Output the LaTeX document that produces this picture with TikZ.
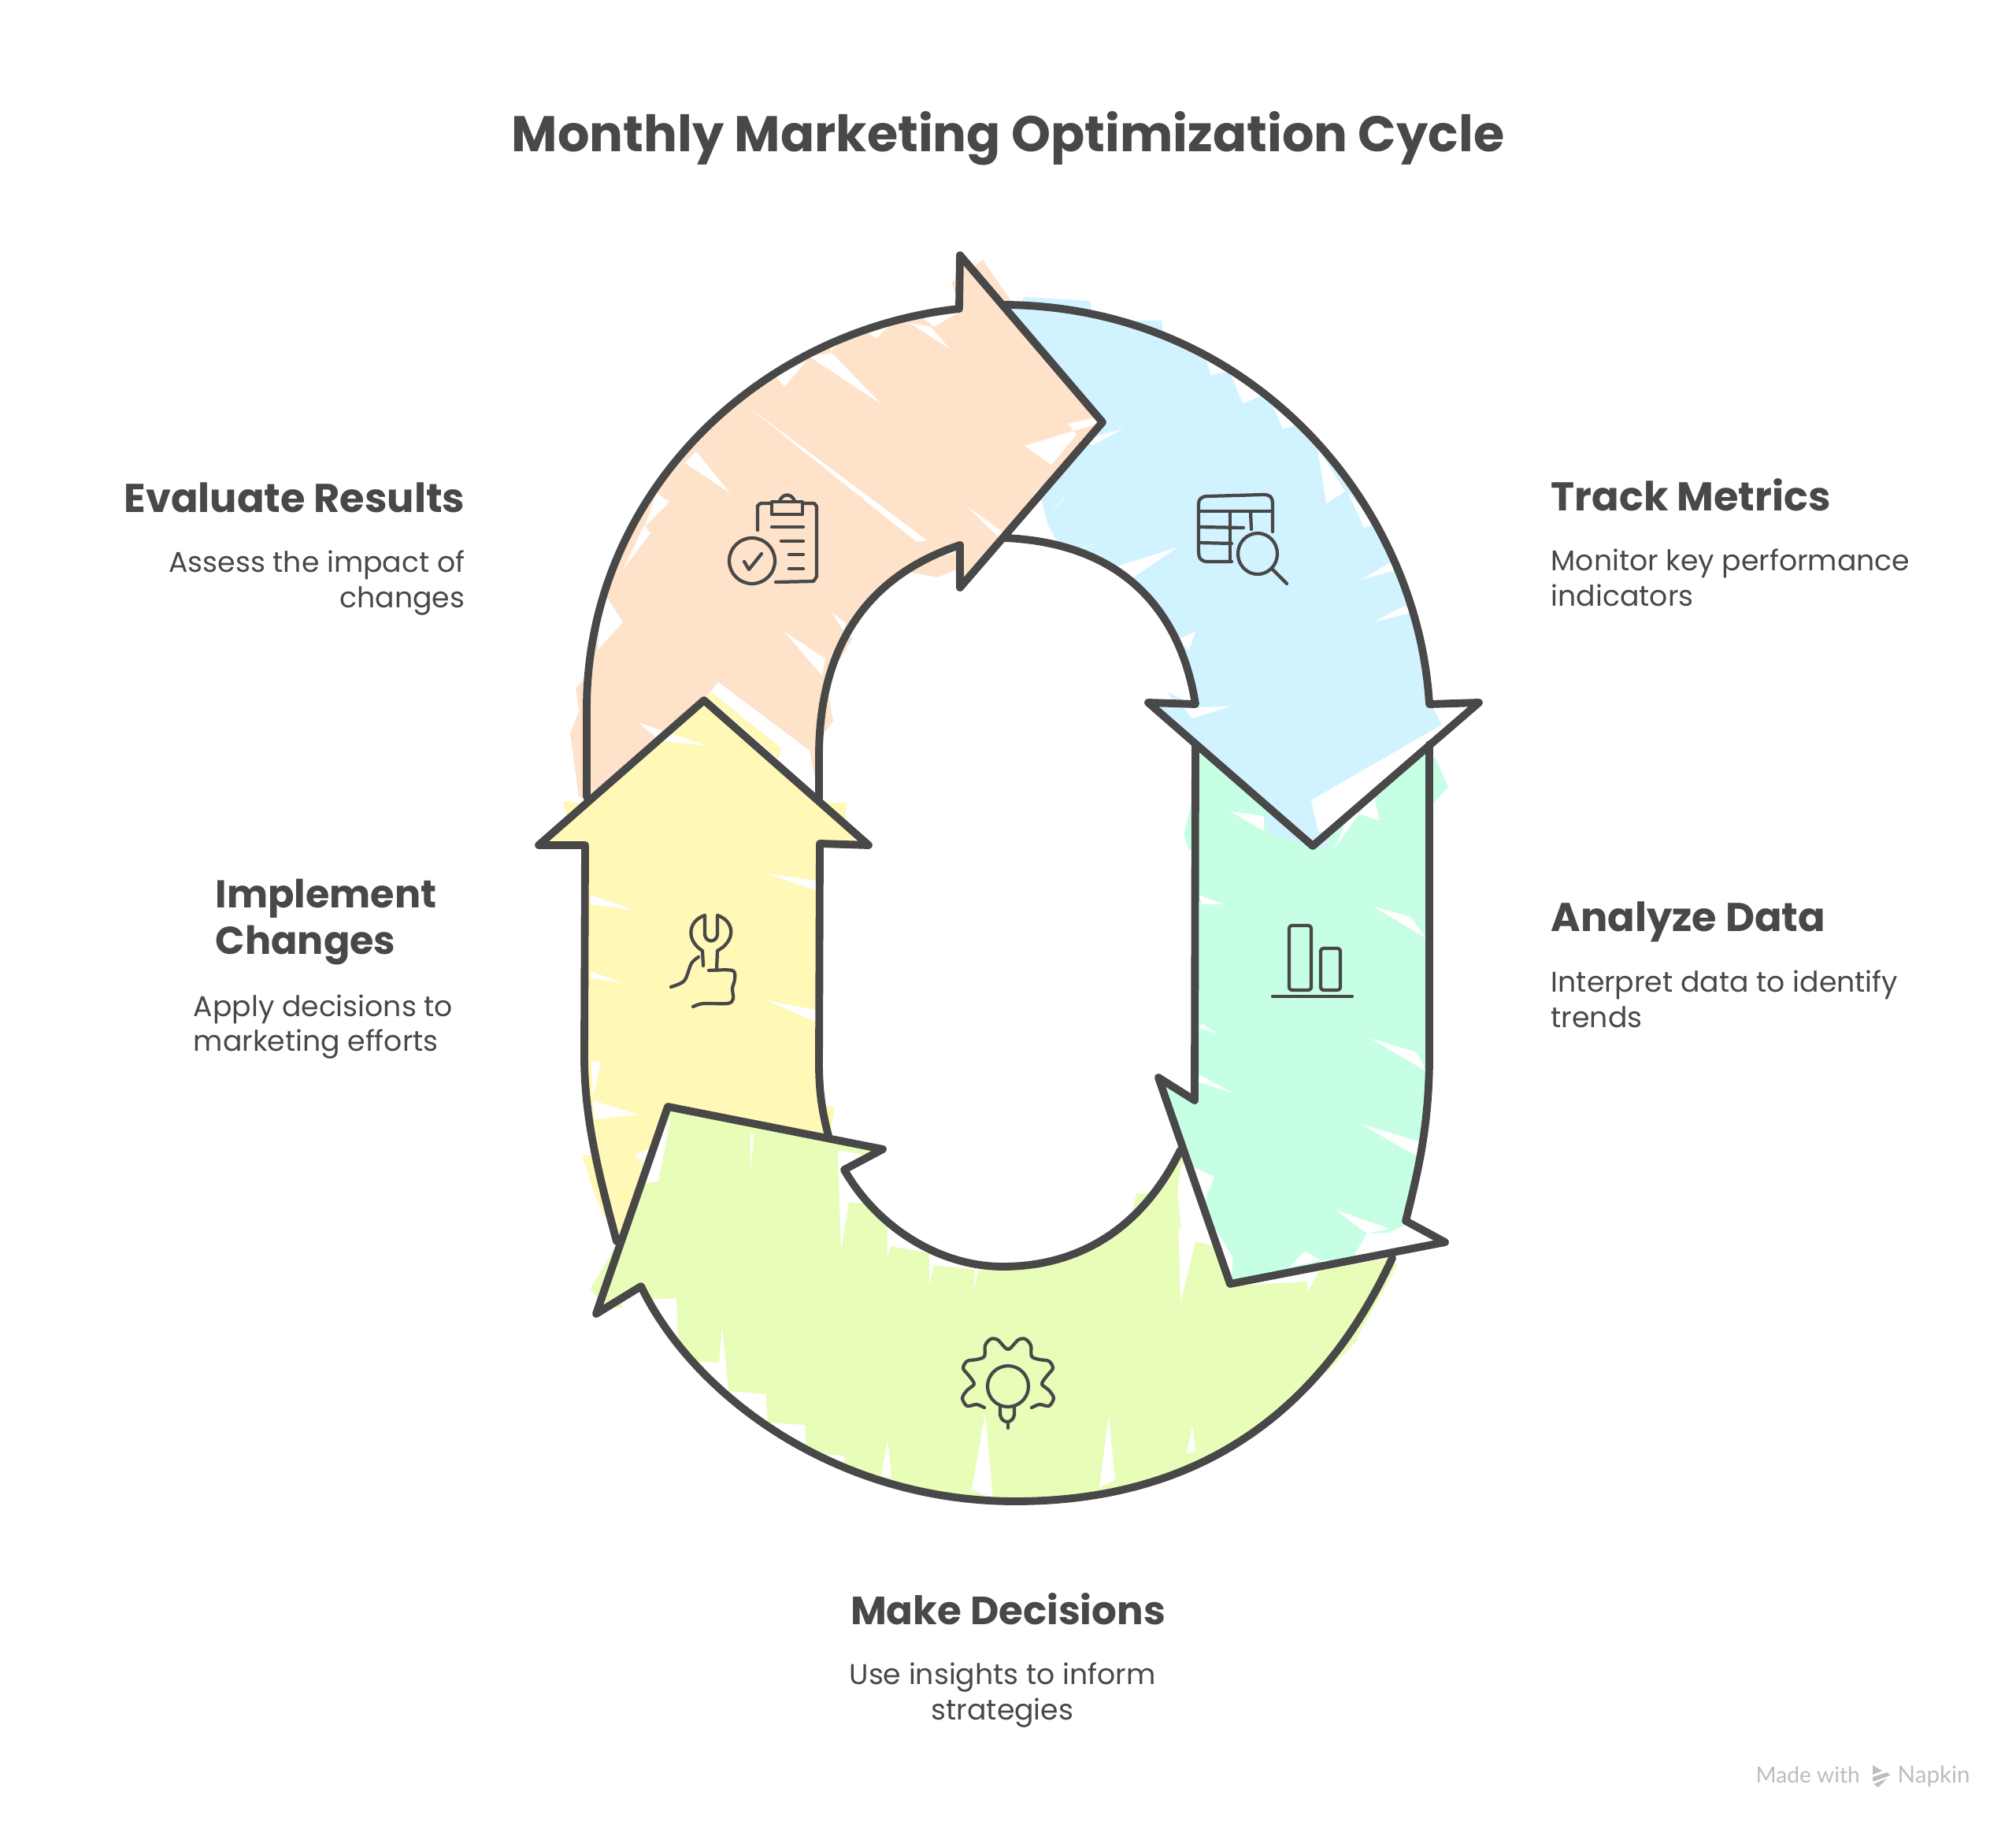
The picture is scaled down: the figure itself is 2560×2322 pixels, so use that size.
\documentclass[tikz,border=0pt]{standalone}
\usepackage{fontspec}
\setmainfont{Poppins}
\newfontfamily\markfont{Lato}
\definecolor{inkline}{HTML}{484848}
\definecolor{orangefill}{HTML}{FEE2CA}
\definecolor{bluefill}{HTML}{D1F3FF}
\definecolor{tealfill}{HTML}{C7FFE5}
\definecolor{limefill}{HTML}{E7FDB8}
\definecolor{yellowfill}{HTML}{FFF8B6}
\definecolor{markgrey}{HTML}{BDBDBD}
\newcommand{\orangebody}{(745,1012) -- (745,900) .. controls (745,630) and (960,420) .. (1218,392) -- (1219,324) -- (1400,536) -- (1219,746) -- (1219,692) .. controls (1120,725) and (1040,800) .. (1040,960) -- (1040,1014)}
\newcommand{\bluebody}{(1277,387) .. controls (1590,390) and (1800,640) .. (1815,894) -- (1878,892) -- (1667,1074) -- (1458,892) -- (1518,894) .. controls (1500,780) and (1430,690) .. (1277,683)}
\newcommand{\tealbody}{(1815,945) -- (1815,1340) .. controls (1815,1430) and (1800,1490) .. (1785,1550) -- (1835,1577) -- (1562,1630) -- (1471,1368) -- (1517,1397) -- (1518,945)}
\newcommand{\limebody}{(1768,1597) .. controls (1660,1830) and (1480,1906) .. (1289,1906) .. controls (1060,1906) and (880,1770) .. (814,1633) -- (757,1668) -- (848,1405) -- (1121,1459) -- (1072,1485) .. controls (1115,1560) and (1195,1608) .. (1273,1608) .. controls (1370,1608) and (1450,1560) .. (1499,1460)}
\newcommand{\yellowbody}{(783,1576) .. controls (760,1490) and (742,1420) .. (742,1340) -- (743,1073) -- (684,1073) -- (894,889) -- (1103,1073) -- (1041,1071) -- (1040,1350) .. controls (1040,1390) and (1045,1415) .. (1052,1442)}
\begin{document}
\begin{tikzpicture}[x=0.01cm,y=-0.01cm]
    \tikzstyle{every node} = [inner sep=0pt, text=inkline]
    \tikzstyle{arrowline} = [draw=inkline, line width=2.8pt, line join=round, line cap=round]
    \tikzstyle{iconline} = [draw=inkline, line width=1.2pt, line join=round, line cap=round]
    \tikzstyle{headtext} = [font=\fontsize{14.5}{16.8}\selectfont\bfseries]
    \tikzstyle{desctext} = [font=\fontsize{10.3}{12.7}\selectfont]
    \useasboundingbox (0,0) rectangle (2560,2322);
    \fill[white] (0,0) rectangle (2560,2322);
    % arrow fills
    \fill[orangefill] \orangebody -- (894,889) -- cycle;
    \fill[bluefill] \bluebody -- (1400,536) -- cycle;
    \fill[tealfill] \tealbody -- (1667,1074) -- cycle;
    \fill[limefill] \limebody -- (1562,1630) -- cycle;
    \fill[yellowfill] \yellowbody -- (848,1405) -- cycle;
    % white slits left by the scribble
    \foreach \ax/\ay/\bx/\by/\cx/\cy in {947/514/1177/686/1164/688, 1028/453/1119/513/1056/448, 1155/410/1206/443/1182/415,
        870/588/927/626/884/573, 1227/642/1273/675/1269/683, 1056/777/1075/792/1070/800, 996/802/1048/836/1044/858,
        810/917/898/947/838/940, 765/749/791/790/759/825, 818/670/850/637/834/626, 791/723/826/677/818/667,
        996/491/1024/458/985/478, 1056/445/1091/412/1040/430, 1113/430/1127/415/1099/420, 1186/415/1225/392/1170/402,
        1530/453/1538/476/1562/471, 1562/473/1578/512/1605/501, 1617/517/1629/545/1645/540, 1673/568/1708/624/1684/639,
        1712/626/1732/670/1748/665, 1768/713/1728/736/1775/723, 1783/769/1744/790/1795/777, 1562/897/1514/912/1503/898,
        1495/695/1412/721/1439/733, 1396/688/1348/705/1384/693, 1427/544/1388/565/1370/560, 1372/611/1325/660/1345/640,
        1518/802/1495/812/1510/825, 1744/1151/1811/1191/1791/1164, 1740/1318/1811/1360/1799/1336, 1728/1427/1803/1470/1807/1451,
        1696/1536/1764/1560/1736/1566, 1657/1588/1637/1609/1677/1600, 1526/1148/1554/1148/1522/1136, 1526/1300/1546/1312/1522/1305,
        1522/1364/1566/1388/1518/1372, 1562/1030/1605/1055/1605/1036, 953/1439/953/1485/958/1439, 1127/1827/1119/1875/1132/1875,
        1251/1794/1234/1891/1261/1903, 1408/1797/1396/1888/1416/1879, 1514/1809/1507/1845/1518/1842, 973/1109/1036/1130/1036/1118,
        973/1270/1036/1297/1036/1282, 750/1136/807/1156/750/1148, 750/1233/791/1248/750/1242, 751/1348/763/1348/753/1394,
        753/1397/810/1415/755/1421, 805/1467/826/1482/834/1454, 852/1417/836/1500/810/1503}
        \fill[white] (\ax,\ay) -- (\bx,\by) -- (\cx,\cy) -- cycle;
    \fill[white] (1301,566) -- (1335,590) -- (1367,552) -- (1356,538) -- (1393,530) -- (1400,536) -- cycle;
    \fill[white] (912,866) -- (1028,953) -- (1040,1014) -- (894,889) -- cycle;
    \fill[white] (1868,897) -- (1819,897) -- (1831,920) -- (1665,1016) -- (1677,1070) -- cycle;
    \fill[white] (1329,662) -- (1349,703) -- (1277,680) -- (1319,620) -- cycle;
    \fill[white] (1693,1079) -- (1716,1030) -- (1752,1042) -- (1744,1008) -- cycle;
    \fill[white] (1503,1476) -- (1542,1494) -- (1526,1533) -- (1566,1597) -- (1562,1630) -- cycle;
    \fill[white] (1835,1577) -- (1785,1555) -- (1764,1565) -- (1736,1566) -- (1716,1600) -- (1677,1600) -- (1675,1612) -- cycle;
    \fill[white] (1064,1460) -- (1068,1588) -- (1078,1526) -- (1127,1530) -- (1127,1597) -- (1131,1582) -- (1180,1591) -- (1180,1633) -- (1186,1606) -- (1238,1612) -- (1236,1642) -- (1242,1612) -- (1273,1612) -- (1273,1500) -- cycle;
    \fill[white] (1495,1515) -- (1499,1654) -- (1518,1576) -- (1545,1582) -- (1505,1478) -- (1500,1478) -- cycle;
    \fill[white] (1570,1632) -- (1660,1627) -- (1661,1640) -- (1675,1614) -- cycle;
    \fill[white] (859,1648) -- (862,1727) -- (913,1730) -- (917,1685) -- (925,1766) -- (973,1770) -- (974,1806) -- (1022,1809) -- (1024,1845) -- (1072,1848) -- (1072,1866) -- (1000,1900) -- (800,1750) -- (822,1650) -- cycle;
    % fill running over the outline
    \foreach \col/\ax/\ay/\bx/\by/\cx/\cy/\ex/\ey in {orangefill/1208/359/1248/330/1285/384/1222/392, orangefill/724/930/745/880/745/1012/735/1012,
        orangefill/731/874/759/841/745/900/735/900, orangefill/1139/723/1190/733/1218/722/1218/700, orangefill/1040/860/1048/861/1058/915/1030/953,
        orangefill/1060/800/1083/810/1065/840/1050/830, bluefill/1301/377/1384/382/1388/405/1290/392, bluefill/1392/407/1475/407/1478/428/1440/420,
        bluefill/1605/1034/1610/1058/1684/1079/1690/1060, bluefill/1483/879/1510/892/1500/895/1490/890, yellowfill/1050/1019/1075/1019/1072/1062/1060/1050,
        yellowfill/715/1017/745/1020/735/1040/722/1048, yellowfill/1040/1400/1060/1406/1053/1445/1042/1440, yellowfill/739/1467/759/1467/783/1576/759/1527,
        yellowfill/897/884/988/963/992/950/905/880, tealfill/1823/963/1839/999/1811/1029/1811/960, tealfill/1503/1060/1518/1000/1518/1070/1510/1080,
        tealfill/1499/1430/1518/1400/1520/1470/1503/1473, limefill/1443/1515/1495/1515/1500/1560/1435/1550, limefill/750/1636/782/1582/790/1660/767/1660,
        limefill/1540/1830/1568/1842/1592/1805/1560/1800, limefill/1660/1745/1685/1742/1725/1700/1690/1700, limefill/1700/1690/1722/1700/1775/1605/1760/1600}
        \fill[\col] (\ax,\ay) -- (\bx,\by) -- (\cx,\cy) -- (\ex,\ey) -- cycle;
    % arrow outlines
    \foreach \body in {\orangebody, \bluebody, \tealbody, \limebody, \yellowbody}
        \draw[arrowline] \body;
    % clipboard icon
    \draw[iconline] (962,673) -- (962,642) -- (966,639) -- (1034,639) -- (1037,643) -- (1037,732) -- (1033,738) -- (985,739);
    \draw[iconline, fill=orangefill] (980,637) rectangle (1019,653);
    \draw[iconline] (990,636) .. controls (994,626) and (1005,626) .. (1009,636);
    \foreach \sx/\sy in {980/669, 992/687, 1002/704, 1002/722}
        \draw[iconline] (\sx,\sy) -- (1020,\sy);
    \draw[iconline] (955,712) ellipse [x radius=29, y radius=29];
    \draw[iconline] (945,713) -- (951,723) -- (967,703);
    % table icon
    \draw[iconline] (1616,675) -- (1616,640) .. controls (1616,630) and (1612,628) .. (1604,628) -- (1534,630) .. controls (1525,630) and (1522,634) .. (1522,640) -- (1522,700) .. controls (1522,710) and (1526,713) .. (1534,713) -- (1564,713);
    \draw[iconline] (1522,649) -- (1616,649);
    \draw[iconline] (1522,669) -- (1579,670);
    \draw[iconline] (1522,689) -- (1564,690);
    \draw[iconline] (1562,649) -- (1562,712);
    \draw[iconline] (1588,650) -- (1589,672);
    \draw[iconline, fill=bluefill] (1597,703) ellipse [x radius=25, y radius=26];
    \draw[iconline] (1616,723) -- (1634,741);
    % bars icon
    \draw[iconline, rounded corners=1pt] (1637,1175) rectangle (1665,1257);
    \draw[iconline, rounded corners=1pt] (1677,1204) rectangle (1702,1257);
    \draw[iconline] (1616,1265) -- (1717,1265);
    % wrench icon
    \draw[iconline] (893,1226) -- (892,1207) .. controls (872,1195) and (872,1170) .. (895,1162) -- (895,1187) .. controls (897,1197) and (909,1197) .. (911,1187) -- (911,1162) .. controls (934,1170) and (934,1195) .. (911,1207) -- (910,1232);
    \draw[iconline] plot[smooth] coordinates {(887,1215) (878,1223) (869,1245) (852,1253)};
    \draw[iconline] plot[smooth] coordinates {(900,1232) (930,1232) (933,1243) (930,1255) (931,1268) (924,1274) (893,1274) (880,1278)};
    % gear icon
    \draw[iconline] plot[smooth] coordinates {(1250,1787) (1240,1783) (1228,1785) (1222,1775) (1228,1765) (1237,1757) (1230,1746) (1223,1737) (1228,1728) (1240,1726) (1250,1722) (1251,1708) (1258,1700) (1267,1701) (1280,1713) (1293,1701) (1302,1700) (1309,1708) (1310,1722) (1320,1726) (1332,1728) (1337,1737) (1330,1746) (1323,1757) (1332,1765) (1338,1775) (1332,1785) (1320,1783) (1310,1787)};
    \draw[iconline] (1280,1760) circle [radius=26];
    \draw[iconline] (1270,1785) -- (1270,1796) .. controls (1272,1808) and (1286,1808) .. (1288,1796) -- (1288,1785);
    \draw[iconline] (1280,1805) -- (1280,1813);
    % texts
    \node[font=\fontsize{18.1}{21}\selectfont\bfseries] (title) at (1280,176) {Monthly Marketing Optimization Cycle};
    \node[headtext, anchor=east] (evalhead) at (591,632) {Evaluate Results};
    \node[desctext, anchor=north east, align=right] (evaldesc) at (591,698) {Assess the impact of\\changes};
    \node[headtext, anchor=west] (trackhead) at (1969,628) {Track Metrics};
    \node[desctext, anchor=north west, align=left] (trackdesc) at (1969,696) {Monitor key performance\\indicators};
    \node[headtext, anchor=west] (analyzehead) at (1969,1170) {Analyze Data};
    \node[desctext, anchor=north west, align=left] (analyzedesc) at (1969,1231) {Interpret data to identify\\trends};
    \node[headtext, font=\fontsize{14}{16.8}\selectfont\bfseries, anchor=north west, align=left] (implhead) at (273,1115) {Implement\\Changes};
    \node[desctext, anchor=north west, align=left] (impldesc) at (245,1262) {Apply decisions to\\marketing efforts};
    \node[headtext, font=\fontsize{14.2}{16.8}\selectfont\bfseries] (makehead) at (1280,2043) {Make Decisions};
    \node[desctext, anchor=north, align=center] (makedesc) at (1273,2110) {Use insights to inform\\strategies};
    % watermark
    \node[anchor=west, text=markgrey, font=\markfont\fontsize{8}{9}\selectfont] (madewith) at (2229,2253) {Made with};
    \node[anchor=west, text=markgrey, font=\markfont\fontsize{8.4}{9}\selectfont] (napkin) at (2409,2255) {Napkin};
    \fill[markgrey] (2378,2241) -- (2390,2248) -- (2378,2253) -- cycle;
    \fill[markgrey] (2378,2256) -- (2397,2250) -- (2400,2254) -- (2378,2262) -- cycle;
    \fill[markgrey] (2379,2265) -- (2396,2258) -- (2385,2269) -- cycle;
\end{tikzpicture}
\end{document}
